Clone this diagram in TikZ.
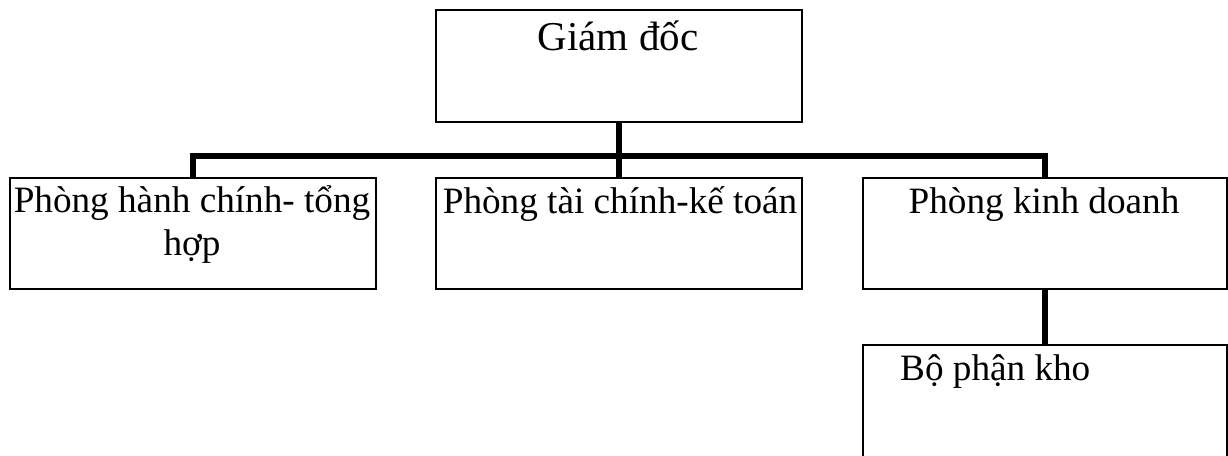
\documentclass[tikz,border=0pt]{standalone}
\usepackage{fontspec}
\setmainfont{Liberation Serif}
\begin{document}
\begin{tikzpicture}[x=1pt,y=-1pt,
  box/.style={draw=black,line width=1.6pt,rectangle,inner sep=0pt},
  txt/.style={inner sep=0pt,anchor=base,font=\fontsize{37.2}{43}\selectfont},
  conn/.style={draw=black,line width=6.5pt,line join=miter}]
\useasboundingbox[fill=white] (0,0) rectangle (1228,455);
% boxes
\node[box,minimum width=366pt,minimum height=112pt] (gd) at (619,66) {};
\node[box,minimum width=366pt,minimum height=111pt] (hc) at (193,233.5) {};
\node[box,minimum width=366pt,minimum height=111pt] (tc) at (619,233.5) {};
\node[box,minimum width=364pt,minimum height=111pt] (kd) at (1045,233.5) {};
\node[box,minimum width=364pt,minimum height=112pt] (kho) at (1045,401) {};
% texts
\node[txt,font=\fontsize{41}{47}\selectfont] (tgd) at (618,50) {Giám đốc};
\node[txt] (thc1) at (192,212) {Phòng hành chính- tổng};
\node[txt] (thc2) at (192,255) {hợp};
\node[txt] (ttc) at (620,213) {Phòng tài chính-kế toán};
\node[txt] (tkd) at (1044,213) {Phòng kinh doanh};
\node[txt,anchor=base west] (tkho) at (900,380) {Bộ phận kho};
% connectors
\coordinate (bar) at (619,156);
\draw[conn] (gd.south) -- (tc.north);
\draw[conn] (hc.north) |- (bar) -| (kd.north);
\draw[conn] (kd.south) -- (kho.north);
\end{tikzpicture}
\end{document}
